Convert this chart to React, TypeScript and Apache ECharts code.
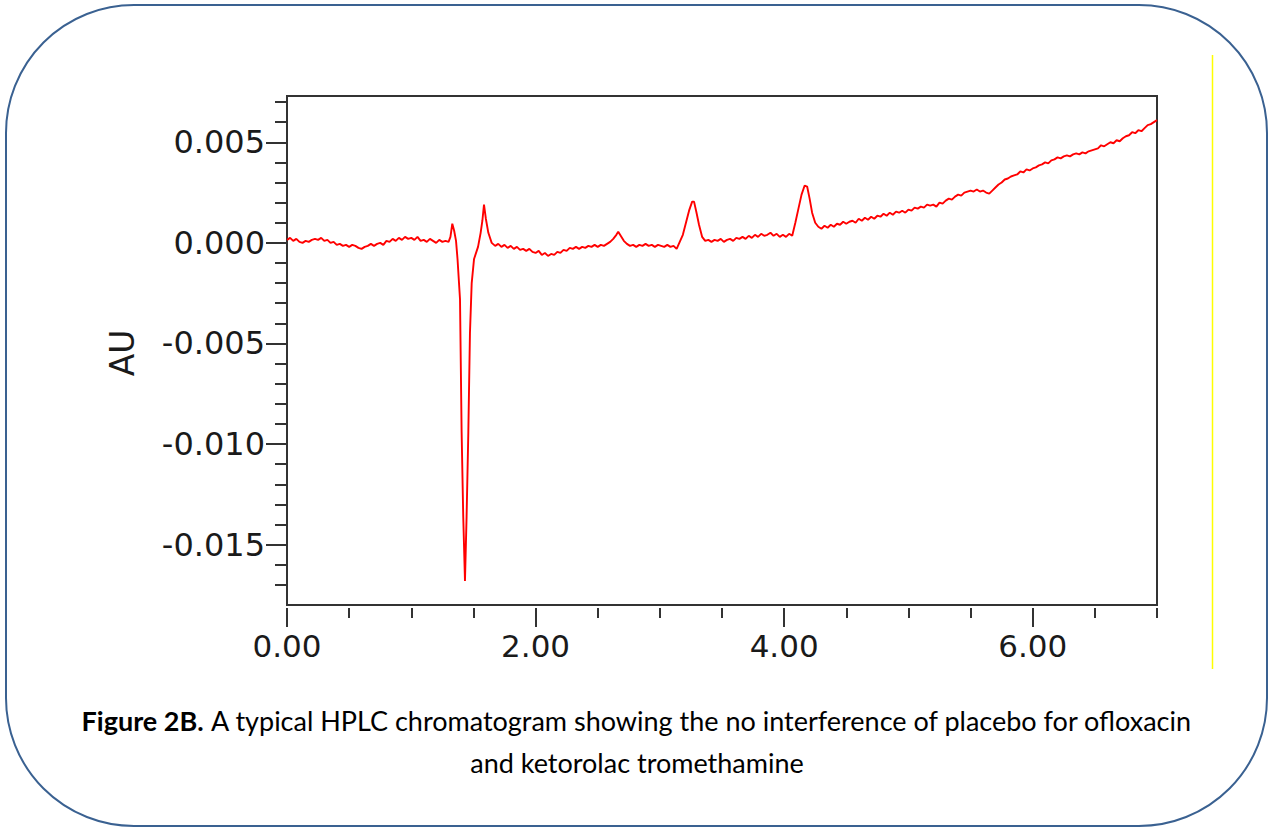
import React, { useEffect, useRef } from "react";
import * as echarts from "echarts";

// Retention time (min) vs absorbance (AU)
const trace: [number, number][] = [
  [0.000, 0.00015], [0.025, 0.00025], [0.050, 0.00010], [0.075, 0.00020], [0.100, 0.00005],
  [0.125, 0.00000], [0.150, 0.00010], [0.175, 0.00005], [0.200, 0.00015], [0.225, 0.00020],
  [0.250, 0.00015], [0.275, 0.00025], [0.300, 0.00010], [0.325, 0.00015], [0.350, 0.00000],
  [0.375, 0.00005], [0.400, -0.00010], [0.425, -0.00005], [0.450, -0.00015], [0.475, -0.00010],
  [0.500, -0.00020], [0.525, -0.00010], [0.550, -0.00015], [0.575, -0.00025], [0.600, -0.00030],
  [0.625, -0.00020], [0.650, -0.00015], [0.675, -0.00005], [0.700, -0.00015], [0.725, -0.00005],
  [0.750, 0.00000], [0.775, -0.00010], [0.800, 0.00010], [0.825, 0.00005], [0.850, 0.00020],
  [0.875, 0.00010], [0.900, 0.00025], [0.925, 0.00015], [0.950, 0.00030], [0.975, 0.00020],
  [1.000, 0.00025], [1.025, 0.00015], [1.050, 0.00030], [1.075, 0.00010], [1.100, 0.00015],
  [1.125, 0.00005], [1.150, 0.00020], [1.175, 0.00010], [1.200, 0.00000], [1.225, 0.00015],
  [1.250, 0.00005], [1.275, 0.00010], [1.300, 0.00005], [1.315, 0.00030], [1.330, 0.00095],
  [1.345, 0.00060], [1.360, 0.00010], [1.372, -0.00080], [1.392, -0.00280], [1.405, -0.00940],
  [1.418, -0.01360], [1.432, -0.01680], [1.445, -0.01360], [1.459, -0.00940], [1.472, -0.00450],
  [1.486, -0.00200], [1.505, -0.00080], [1.537, -0.00020], [1.558, 0.00050], [1.572, 0.00110],
  [1.585, 0.00190], [1.600, 0.00120], [1.620, 0.00050], [1.647, 0.00000], [1.675, -0.00015],
  [1.700, -0.00005], [1.725, -0.00020], [1.750, -0.00010], [1.775, -0.00025], [1.800, -0.00015],
  [1.825, -0.00030], [1.850, -0.00020], [1.875, -0.00035], [1.900, -0.00030], [1.925, -0.00040],
  [1.950, -0.00030], [1.975, -0.00045], [2.000, -0.00050], [2.025, -0.00040], [2.050, -0.00060],
  [2.075, -0.00050], [2.100, -0.00065], [2.125, -0.00055], [2.150, -0.00060], [2.175, -0.00045],
  [2.200, -0.00050], [2.225, -0.00035], [2.250, -0.00040], [2.275, -0.00025], [2.300, -0.00030],
  [2.325, -0.00020], [2.350, -0.00030], [2.375, -0.00020], [2.400, -0.00025], [2.425, -0.00015],
  [2.450, -0.00020], [2.475, -0.00010], [2.500, -0.00020], [2.525, -0.00010], [2.550, -0.00015],
  [2.575, -0.00005], [2.600, 0.00005], [2.625, 0.00020], [2.650, 0.00040], [2.665, 0.00055],
  [2.690, 0.00030], [2.710, 0.00010], [2.735, -0.00005], [2.760, -0.00015], [2.785, -0.00010],
  [2.810, -0.00020], [2.835, -0.00010], [2.860, -0.00015], [2.885, -0.00005], [2.910, -0.00015],
  [2.935, -0.00010], [2.960, -0.00020], [2.985, -0.00010], [3.010, -0.00015], [3.035, -0.00020],
  [3.060, -0.00010], [3.085, -0.00020], [3.110, -0.00015], [3.135, -0.00030], [3.160, 0.00005],
  [3.185, 0.00040], [3.210, 0.00100], [3.235, 0.00160], [3.260, 0.00205], [3.275, 0.00205],
  [3.295, 0.00150], [3.315, 0.00090], [3.340, 0.00030], [3.365, 0.00010], [3.390, 0.00015],
  [3.415, 0.00005], [3.440, 0.00015], [3.465, 0.00010], [3.490, 0.00020], [3.515, 0.00005],
  [3.540, 0.00015], [3.565, 0.00020], [3.590, 0.00010], [3.615, 0.00025], [3.640, 0.00020],
  [3.665, 0.00030], [3.690, 0.00020], [3.715, 0.00035], [3.740, 0.00025], [3.765, 0.00040],
  [3.790, 0.00030], [3.815, 0.00045], [3.840, 0.00035], [3.865, 0.00040], [3.890, 0.00050],
  [3.915, 0.00035], [3.940, 0.00045], [3.965, 0.00030], [3.990, 0.00040], [4.015, 0.00030],
  [4.040, 0.00045], [4.065, 0.00035], [4.090, 0.00100], [4.115, 0.00170], [4.140, 0.00240],
  [4.165, 0.00285], [4.185, 0.00280], [4.205, 0.00220], [4.225, 0.00150], [4.250, 0.00100],
  [4.275, 0.00080], [4.300, 0.00070], [4.325, 0.00085], [4.350, 0.00075], [4.375, 0.00090],
  [4.400, 0.00080], [4.425, 0.00095], [4.450, 0.00090], [4.475, 0.00105], [4.500, 0.00095],
  [4.525, 0.00105], [4.550, 0.00110], [4.575, 0.00100], [4.600, 0.00120], [4.625, 0.00110],
  [4.650, 0.00125], [4.675, 0.00115], [4.700, 0.00130], [4.725, 0.00120], [4.750, 0.00135],
  [4.775, 0.00130], [4.800, 0.00145], [4.825, 0.00135], [4.850, 0.00150], [4.875, 0.00140],
  [4.900, 0.00155], [4.925, 0.00150], [4.950, 0.00160], [4.975, 0.00150], [5.000, 0.00165],
  [5.025, 0.00160], [5.050, 0.00175], [5.075, 0.00170], [5.100, 0.00180], [5.125, 0.00175],
  [5.150, 0.00190], [5.175, 0.00185], [5.200, 0.00190], [5.225, 0.00180], [5.250, 0.00200],
  [5.275, 0.00195], [5.300, 0.00210], [5.325, 0.00220], [5.350, 0.00215], [5.375, 0.00230],
  [5.400, 0.00240], [5.425, 0.00235], [5.450, 0.00250], [5.475, 0.00255], [5.500, 0.00260],
  [5.525, 0.00255], [5.550, 0.00265], [5.575, 0.00255], [5.600, 0.00260], [5.625, 0.00250],
  [5.650, 0.00245], [5.675, 0.00260], [5.700, 0.00275], [5.725, 0.00290], [5.750, 0.00300],
  [5.775, 0.00315], [5.800, 0.00320], [5.825, 0.00330], [5.850, 0.00335], [5.875, 0.00340],
  [5.900, 0.00355], [5.925, 0.00350], [5.950, 0.00365], [5.975, 0.00360], [6.000, 0.00370],
  [6.025, 0.00375], [6.050, 0.00385], [6.075, 0.00390], [6.100, 0.00400], [6.125, 0.00395],
  [6.150, 0.00410], [6.175, 0.00415], [6.200, 0.00425], [6.225, 0.00420], [6.250, 0.00430],
  [6.275, 0.00435], [6.300, 0.00430], [6.325, 0.00440], [6.350, 0.00445], [6.375, 0.00440],
  [6.400, 0.00450], [6.425, 0.00445], [6.450, 0.00455], [6.475, 0.00460], [6.500, 0.00465],
  [6.525, 0.00470], [6.550, 0.00485], [6.575, 0.00480], [6.600, 0.00490], [6.625, 0.00500],
  [6.650, 0.00495], [6.675, 0.00510], [6.700, 0.00505], [6.725, 0.00520], [6.750, 0.00530],
  [6.775, 0.00535], [6.800, 0.00550], [6.825, 0.00545], [6.850, 0.00560], [6.875, 0.00555],
  [6.900, 0.00570], [6.925, 0.00585], [6.950, 0.00590], [6.975, 0.00600], [7.000, 0.00610],
];

const xMajorTicks = [0, 2, 4, 6];
const xMinorTicks = [0.5, 1, 1.5, 2.5, 3, 3.5, 4.5, 5, 5.5, 6.5, 7];
const yMajorTicks = [-0.015, -0.01, -0.005, 0, 0.005];
const yMinorTicks = [
  -0.017, -0.016, -0.014, -0.013, -0.012, -0.011, -0.009, -0.008, -0.007, -0.006,
  -0.004, -0.003, -0.002, -0.001, 0.001, 0.002, 0.003, 0.004, 0.006, 0.007,
];
const xRange = [0, 7];
const yRange = [-0.018, 0.0073];
const yAxisTitle = "AU";
const captionBold = "Figure 2B.";
const captionLine1 = " A typical HPLC chromatogram showing the no interference of placebo for ofloxacin";
const captionLine2 = "and ketorolac tromethamine";

const AXIS_COLOR = "#333333";
const TEXT_COLOR = "#1a1a1a";
const AXIS_FONT = "DejaVu Sans";
const CAPTION_FONT = "Lato";
const CAPTION_SIZE = 27;

export default function App() {
  const ref = useRef<HTMLDivElement>(null);

  useEffect(() => {
    if (!ref.current) return;
    const chart = echarts.init(ref.current, null, { renderer: "svg" });

    const baseValueAxis = {
      type: "value" as const,
      splitLine: { show: false },
      axisLine: { show: false, onZero: false },
      axisLabel: { show: false },
      axisTick: { show: false },
    };

    chart.setOption({
      animation: false,
      backgroundColor: "#ffffff",
      grid: {
        left: 287,
        right: 113,
        top: 96,
        bottom: 225,
        show: true,
        borderColor: AXIS_COLOR,
        borderWidth: 2,
        backgroundColor: "transparent",
      },
      xAxis: [
        {
          ...baseValueAxis,
          min: xRange[0],
          max: xRange[1],
          position: "bottom",
          axisLine: { show: true, onZero: false, lineStyle: { color: AXIS_COLOR, width: 2 } },
        },
        {
          ...baseValueAxis,
          min: xRange[0],
          max: xRange[1],
          position: "bottom",
          offset: 3,
          axisTick: {
            show: true,
            customValues: xMajorTicks,
            length: 19,
            lineStyle: { color: AXIS_COLOR, width: 2 },
          },
          axisLabel: {
            show: true,
            customValues: xMajorTicks,
            formatter: (v: number) => v.toFixed(2),
            margin: 22,
            fontFamily: AXIS_FONT,
            fontSize: 31,
            color: TEXT_COLOR,
          },
        },
        {
          ...baseValueAxis,
          min: xRange[0],
          max: xRange[1],
          position: "bottom",
          offset: 3,
          axisTick: {
            show: true,
            customValues: xMinorTicks,
            length: 10,
            lineStyle: { color: AXIS_COLOR, width: 2 },
          },
        },
      ],
      yAxis: [
        {
          ...baseValueAxis,
          min: yRange[0],
          max: yRange[1],
          position: "left",
          axisLine: { show: true, onZero: false, lineStyle: { color: AXIS_COLOR, width: 2 } },
          axisTick: {
            show: true,
            customValues: yMajorTicks,
            length: 21,
            lineStyle: { color: AXIS_COLOR, width: 2 },
          },
          axisLabel: {
            show: true,
            customValues: yMajorTicks,
            formatter: (v: number) => v.toFixed(3),
            margin: 22,
            fontFamily: AXIS_FONT,
            fontSize: 32,
            color: TEXT_COLOR,
          },
        },
        {
          ...baseValueAxis,
          min: yRange[0],
          max: yRange[1],
          position: "left",
          axisTick: {
            show: true,
            customValues: yMinorTicks,
            length: 12,
            lineStyle: { color: AXIS_COLOR, width: 2 },
          },
        },
      ],
      series: [
        {
          type: "line",
          xAxisIndex: 0,
          yAxisIndex: 0,
          data: trace,
          showSymbol: false,
          symbol: "none",
          lineStyle: { color: "#ff0000", width: 1.9 },
          itemStyle: { color: "#ff0000" },
          z: 3,
        },
      ],
      graphic: [
        {
          type: "rect",
          shape: { x: 6, y: 5, width: 1261, height: 821, r: 128 },
          style: { fill: "none", stroke: "#3a6191", lineWidth: 2 },
          silent: true,
          z: -1,
        },
        {
          type: "line",
          shape: { x1: 1212.5, y1: 55, x2: 1212.5, y2: 669 },
          style: { stroke: "#ffff00", lineWidth: 1.5 },
          silent: true,
        },
        {
          type: "text",
          x: 122,
          y: 353,
          rotation: Math.PI / 2,
          style: {
            text: yAxisTitle,
            fontFamily: AXIS_FONT,
            fontSize: 33,
            fill: TEXT_COLOR,
            align: "center",
            verticalAlign: "middle",
          },
        },
        {
          type: "text",
          x: 637,
          y: 720,
          style: {
            text: "{b|" + captionBold + "}" + captionLine1,
            fontFamily: CAPTION_FONT,
            fontSize: CAPTION_SIZE,
            fill: "#000000",
            align: "center",
            verticalAlign: "middle",
            rich: {
              b: { fontFamily: CAPTION_FONT, fontSize: CAPTION_SIZE, fontWeight: "bold", fill: "#000000" },
            },
          },
        },
        {
          type: "text",
          x: 637,
          y: 762,
          style: {
            text: captionLine2,
            fontFamily: CAPTION_FONT,
            fontSize: CAPTION_SIZE,
            fill: "#000000",
            align: "center",
            verticalAlign: "middle",
          },
        },
      ],
    });

    return () => chart.dispose();
  }, []);

  return (
    <div
      ref={ref}
      style={{ position: "fixed", left: 0, top: 0, width: 1270, height: 830, background: "#fff" }}
    />
  );
}
